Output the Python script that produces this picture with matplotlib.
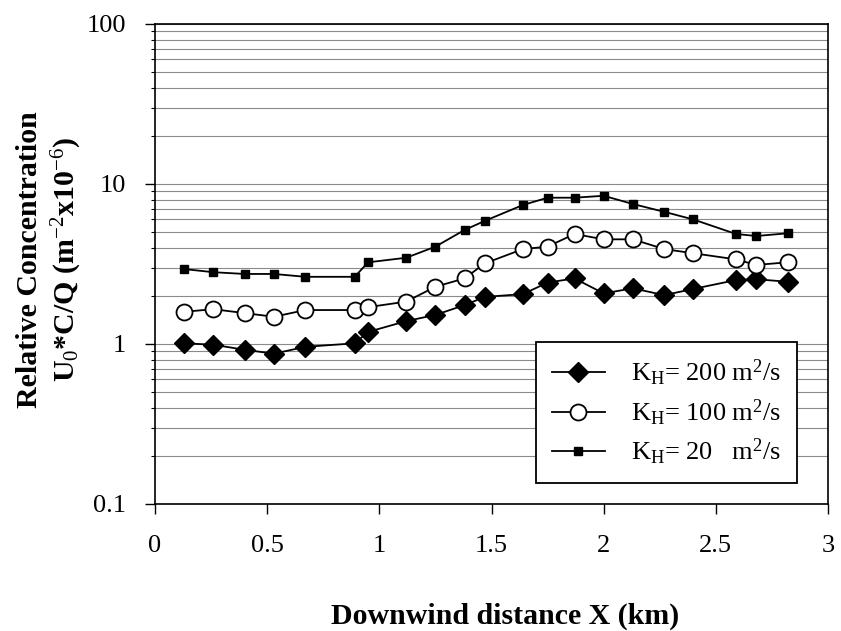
import matplotlib
matplotlib.use("Agg")
import matplotlib.pyplot as plt
from matplotlib.ticker import LogLocator, NullFormatter

plt.rcParams['font.family'] = ['Liberation Serif', 'DejaVu Serif']
plt.rcParams['mathtext.fontset'] = 'custom'
plt.rcParams['mathtext.rm'] = 'Liberation Serif'
plt.rcParams['mathtext.it'] = 'Liberation Serif:italic'
plt.rcParams['mathtext.bf'] = 'Liberation Serif:bold'

x = [0.13, 0.26, 0.40, 0.53, 0.67, 0.89, 0.95, 1.12, 1.25, 1.38, 1.47,
     1.64, 1.75, 1.87, 2.00, 2.13, 2.27, 2.40, 2.59, 2.68, 2.82]
kh200 = [1.01, 0.99, 0.92, 0.87, 0.96, 1.01, 1.19, 1.39, 1.52, 1.75, 1.97,
         2.05, 2.42, 2.57, 2.07, 2.23, 2.02, 2.21, 2.51, 2.54, 2.45]
kh100 = [1.59, 1.65, 1.56, 1.48, 1.63, 1.63, 1.70, 1.84, 2.28, 2.57, 3.19,
         3.92, 4.06, 4.87, 4.51, 4.51, 3.92, 3.69, 3.38, 3.12, 3.24]
kh20 = [2.94, 2.81, 2.74, 2.74, 2.63, 2.63, 3.24, 3.46, 4.06, 5.16, 5.88,
        7.39, 8.21, 8.21, 8.44, 7.50, 6.70, 6.00, 4.87, 4.73, 4.92]

labels = [r"K$_\mathrm{H}$= 200 m$^2$/s",
          r"K$_\mathrm{H}$= 100 m$^2$/s",
          r"K$_\mathrm{H}$= 20   m$^2$/s"]
yticks = [0.1, 1, 10, 100]
ytick_labels = ['0.1', '1', '10', '100']
xticks = [0, 0.5, 1, 1.5, 2, 2.5, 3]
xtick_labels = ['0', '0.5', '1', '1.5', '2', '2.5', '3']

fig = plt.figure(figsize=(8.41, 6.31), dpi=100)
ax = fig.add_axes([155/841, 1-504/631, (828-155)/841, (504-24)/631])

ax.set_yscale('log')
ax.set_xlim(0, 3)
ax.set_ylim(0.1, 100)

ax.plot(x, kh200, color='black', lw=1.3, marker='D', markersize=10.5,
        markerfacecolor='black', label=labels[0], zorder=3)
ax.plot(x, kh100, color='black', lw=1.3, marker='o', markersize=11.5,
        markerfacecolor='white', markeredgewidth=1.3, label=labels[1], zorder=3)
ax.plot(x, kh20, color='black', lw=1.3, marker='s', markersize=5.5,
        markerfacecolor='black', label=labels[2], zorder=3)

ax.yaxis.set_minor_locator(LogLocator(base=10, subs=range(2, 10), numticks=20))
ax.yaxis.set_minor_formatter(NullFormatter())
ax.set_yticks(yticks)
ax.set_yticklabels(ytick_labels)
ax.set_xticks(xticks)
ax.set_xticklabels(xtick_labels)

ax.grid(True, which='both', axis='y', color='#8a8a8a', lw=0.8)
ax.set_axisbelow(True)

ax.tick_params(axis='both', which='major', direction='out', length=7, width=1,
               labelsize=19)
ax.tick_params(axis='y', which='minor', direction='out', length=3, width=0.8)
ax.tick_params(axis='y', which='major', pad=14)
ax.tick_params(axis='x', which='major', pad=15)

for s in ax.spines.values():
    s.set_color('black')
    s.set_linewidth(1.2)

ax.set_ylabel("Relative Concentration\n" + r"U$_0$*C/Q (m$^{-2}$x10$^{-6}$)",
              fontsize=21.5, fontweight='bold', linespacing=1.25)
ax.yaxis.set_label_coords(-0.106, 0.51)
ax.set_xlabel("Downwind distance X (km)", fontsize=21.5, fontweight='bold')
ax.xaxis.set_label_coords(0.52, -0.205)

leg = ax.legend(loc='lower right', bbox_to_anchor=(0.954, 0.044), fontsize=19,
                frameon=True, fancybox=False, edgecolor='black', framealpha=1,
                handlelength=2.0, borderpad=0.6, labelspacing=0.35, handletextpad=1.0,
                borderaxespad=0)
leg.get_frame().set_linewidth(1.3)

fig.savefig("out.png", dpi=100)
